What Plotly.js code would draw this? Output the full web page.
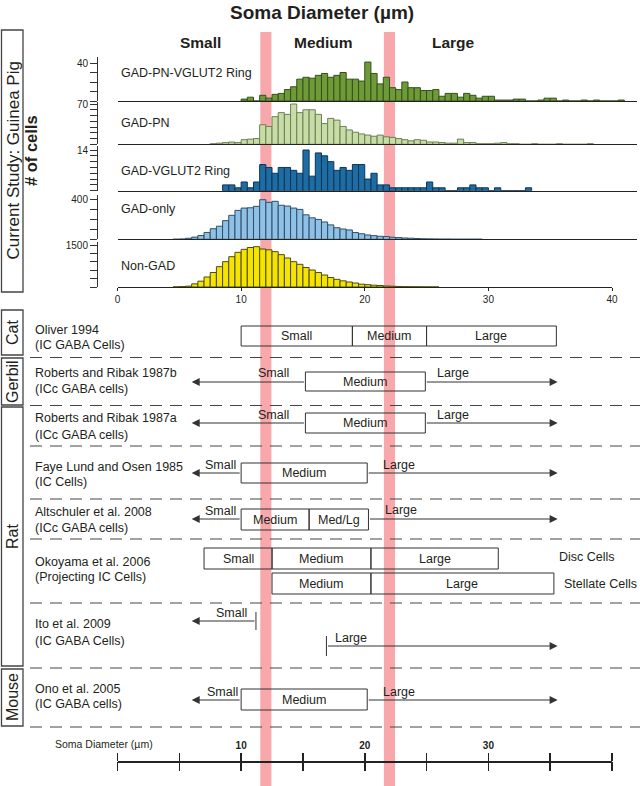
<!DOCTYPE html>
<html><head><meta charset="utf-8">
<script src="https://cdn.plot.ly/plotly-3.0.1.min.js"></script>
<style>html,body{margin:0;padding:0;background:#fff}#chart{width:640px;height:786px}</style>
</head><body><div id="chart"></div>
<script>
// ================= DATA =================
// Histogram counts per 0.5 µm bin (first bin starts at the *Start value)
const binWidth = 0.5;
const ringStart = 10.0;
const gadPnVglut2Ring = [2,4,0,6,3,7,8,12,15,23,25,24,27,29,25,27,30,23,23,21,41,29,18,25,14,12,20,14,14,11,11,12,5,8,8,4,8,6,3,5,5,1,1,1,2,2,0,0,1,3,3,0,1,0,0,1,0,1,0,0,0,1];
const pnStart = 7.5;
const gadPn = [1,2,3,4,3,8,9,10,34,31,48,55,52,70,55,60,60,52,36,45,42,31,25,21,18,16,14,16,13,12,10,8,6,8,7,4,4,3,2,2,9,3,3,1,1,1,2,3,1,1,0,0,1,0,0,0,1,0,0,0,0,1];
const vglutStart = 8.5;
const gadVglut2Ring = [2,2,1,3,1,3,9,8,6,8,8,7,6,14,5,13,12,10,7,8,7,9,9,4,6,2,2,1,1,1,1,1,1,3,1,1,0,0,1,1,2,1,1,0,1,0,0,0,0,1];
const gadOnlyStart = 4.5;
const gadOnly = [1,3,10,22,38,68,105,130,185,238,287,310,313,327,393,367,377,338,330,310,297,243,213,197,172,143,115,102,93,67,55,43,36,30,27,20,17,13,11,8,5,4,3,2,2,1,1,1,1,1];
const nonGadStart = 4.5;
const nonGad = [5,15,30,113,208,357,518,726,905,1083,1238,1345,1411,1440,1357,1327,1262,1155,1036,905,810,696,607,518,428,339,274,220,178,143,101,83,65,53,36,28,20,14,10,7,5,3,2];

const panelNames = ['GAD-PN-VGLUT2 Ring','GAD-PN','GAD-VGLUT2 Ring','GAD-only','Non-GAD'];
const panelTopValues = [40, 70, 14, 400, 1500];
const panelTickSteps = [10, 10, 2, 100, 300];

// Size class boundaries (µm) used by this study
const sizeClasses = ['Small','Medium','Large'];
const sizeBounds = [12, 22];

// Literature comparison
const studyNames = ['Oliver 1994','Roberts and Ribak 1987b','Roberts and Ribak 1987a','Faye Lund and Osen 1985','Altschuler et al. 2008','Okoyama et al. 2006','Ito et al. 2009','Ono et al. 2005'];
const studyCells = ['(IC GABA Cells)','(ICc GABA cells)','(ICc GABA cells)','(IC Cells)','(ICc GABA cells)','(Projecting IC Cells)','(IC GABA Cells)','(IC GABA cells)'];
const species = ['Cat','Gerbil','Rat','Mouse'];

const oliverEdges = [10.0, 19.0, 25.0, 35.5];
const oliverLabels = ['Small','Medium','Large'];
const robertsBEdges = [15.2, 24.9];
const robertsAEdges = [15.2, 24.9];
const fayeLundEdges = [10.0, 20.2];
const altschulerEdges = [10.0, 15.5, 20.3];
const altschulerLabels = ['Medium','Med/Lg'];
const okoyamaDiscEdges = [7.0, 12.5, 20.5, 30.8];
const okoyamaDiscLabels = ['Small','Medium','Large'];
const okoyamaStellateEdges = [12.5, 20.5, 35.3];
const okoyamaStellateLabels = ['Medium','Large'];
const onoEdges = [10.0, 20.2];
const itoSmallMax = 11.2;
const itoLargeMin = 16.9;
const openArrowMin = 6.0;
const openArrowMax = 35.6;
const scaleTicks = [0,5,10,15,20,25,30,35,40];
const scaleLabels = ['', '', '10', '', '20', '', '30', '', ''];

// ================= LAYOUT HELPERS =================
const W = 640, H = 786;
const FONT = 'Liberation Sans, Arial, Helvetica, sans-serif';
const INK = '#231f20';
const PINK = 'rgb(248,168,170)';
const fx = px => px / W;
const fy = py => 1 - py / H;
const X0 = 117.5, PXU = (612 - 117.5) / 40; // px per µm

const panelStyle = [
  {fill:'#6f9a38', line:'#34501a', start: ringStart, data: gadPnVglut2Ring, base:101, topPx:63, domTop:57},
  {fill:'#c8dda6', line:'#6d7f55', start: pnStart, data: gadPn, base:144.3, topPx:104, domTop:101.5},
  {fill:'#1d6ca3', line:'#0d3556', start: vglutStart, data: gadVglut2Ring, base:190.7, topPx:150, domTop:146},
  {fill:'#8fc0e6', line:'#2f4f68', start: gadOnlyStart, data: gadOnly, base:239.3, topPx:199, domTop:195},
  {fill:'#f5e400', line:'#4d4a10', start: nonGadStart, data: nonGad, base:287, topPx:245, domTop:242}
];
const labelY = [73, 123, 171, 209, 266];

const traces = [];
const layout = {
  width: W, height: H, margin: {l:0, r:0, t:0, b:0},
  paper_bgcolor: '#ffffff', plot_bgcolor: 'rgba(0,0,0,0)',
  showlegend: false, bargap: 0,
  font: {family: FONT, color: INK},
  shapes: [], annotations: []
};

panelStyle.forEach((p, i) => {
  const n = i + 1;
  const xa = n === 1 ? 'xaxis' : 'xaxis' + n;
  const ya = n === 1 ? 'yaxis' : 'yaxis' + n;
  const xr = n === 1 ? 'x' : 'x' + n;
  const yr = n === 1 ? 'y' : 'y' + n;
  traces.push({
    type: 'bar', x0: p.start + binWidth / 2, dx: binWidth, y: p.data, width: binWidth,
    xaxis: xr, yaxis: yr,
    marker: {color: p.fill, line: {color: p.line, width: 1}},
    hoverinfo: 'skip'
  });
  const last = n === 5;
  const xMax = last ? 40 : 42;
  layout[xa] = {
    domain: [fx(X0), fx(X0 + xMax * PXU)], range: [0, xMax], anchor: yr,
    showline: true, linecolor: '#222', linewidth: 1, showgrid: false, zeroline: false,
    ticks: last ? 'outside' : '', ticklen: 3, tickcolor: '#222',
    showticklabels: last, tickvals: [0,10,20,30,40], tickfont: {size: 10, family: FONT, color: INK},
    fixedrange: true
  };
  const topVal = panelTopValues[i];
  const rMax = topVal * (p.base - p.domTop) / (p.base - p.topPx);
  const tv = [], tt = [];
  for (let v = 0; v <= topVal + 1e-9; v += panelTickSteps[i]) { tv.push(v); tt.push(''); }
  tt[tt.length - 1] = String(topVal);
  layout[ya] = {
    domain: [fy(p.base), fy(p.domTop)], range: [0, rMax], anchor: 'free', position: fx(97),
    showline: true, linecolor: '#333', linewidth: 1, showgrid: false, zeroline: false,
    ticks: 'outside', ticklen: 7, tickcolor: '#333', tickwidth: 1,
    tickvals: tv, ticktext: tt, tickfont: {size: 10, family: FONT, color: INK},
    fixedrange: true
  };
  layout.annotations.push({
    xref: 'paper', yref: 'paper', x: fx(119), y: fy(labelY[i]), xanchor: 'left', yanchor: 'middle',
    text: panelNames[i], showarrow: false, font: {size: 12.5, family: FONT, color: INK}
  });
});

// bottom scale axis (shared scale for the comparison panel)
layout.xaxis6 = {
  domain: [fx(X0), fx(612)], range: [0, 40], anchor: 'free', position: fy(761), side: 'top',
  showline: true, linecolor: '#222', linewidth: 1.5, showgrid: false, zeroline: false,
  ticks: 'outside', ticklen: 8, tickwidth: 1.5, tickcolor: '#222',
  tickvals: scaleTicks, ticktext: scaleLabels.map(s => s ? '<b>' + s + '</b>' : ''),
  tickfont: {size: 10, family: FONT, color: INK}, fixedrange: true
};
layout.xaxis7 = {
  overlaying: 'x6', range: [0, 40], anchor: 'free', position: fy(761), side: 'bottom',
  showline: false, showgrid: false, zeroline: false,
  ticks: 'outside', ticklen: 9, tickwidth: 1.5, tickcolor: '#222',
  tickvals: scaleTicks, showticklabels: false, fixedrange: true
};
// invisible carrier traces so the scale axes exist
traces.push({type: 'scatter', x: [0, 40], y: [0, 0], xaxis: 'x6', yaxis: 'y6', mode: 'none', hoverinfo: 'skip'});
traces.push({type: 'scatter', x: [0, 40], y: [0, 0], xaxis: 'x7', yaxis: 'y6', mode: 'none', hoverinfo: 'skip'});
layout.yaxis6 = {domain: [0, 0.02], range: [0, 1], anchor: 'x6', visible: false, fixedrange: true};

const S = layout.shapes, A = layout.annotations;

// pink class boundaries
sizeBounds.forEach(b => {
  S.push({type: 'rect', layer: 'below', xref: 'x6', yref: 'paper', x0: b - 0.45, x1: b + 0.45,
    y0: 0, y1: fy(32), fillcolor: PINK, line: {width: 0}});
});

function txt(xref, x, yPx, text, size, opts) {
  A.push(Object.assign({xref: xref, yref: 'paper', x: x, y: fy(yPx), text: text, showarrow: false,
    xanchor: 'center', yanchor: 'middle', font: {size: size, family: FONT, color: INK}}, opts || {}));
}
function box(edges, labels, top, bot) {
  for (let i = 0; i < edges.length - 1; i++) {
    S.push({type: 'rect', layer: 'above', xref: 'x6', yref: 'paper', x0: edges[i], x1: edges[i + 1],
      y0: fy(bot), y1: fy(top), line: {color: '#333', width: 1}, fillcolor: 'rgba(0,0,0,0)'});
    txt('x6', (edges[i] + edges[i + 1]) / 2, (top + bot) / 2, labels[i], 12.5);
  }
}
function arrow(from, to, yPx) {
  A.push({xref: 'x6', yref: 'paper', x: to, y: fy(yPx), axref: 'x6', ax: from, ayref: 'pixel', ay: 0,
    text: '', showarrow: true, arrowhead: 2, arrowsize: 1.6, arrowwidth: 1, arrowcolor: '#333',
    standoff: 0, startstandoff: 0});
}
function vtick(x, y1, y2) {
  S.push({type: 'line', layer: 'above', xref: 'x6', yref: 'paper', x0: x, x1: x, y0: fy(y1), y1: fy(y2),
    line: {color: '#333', width: 1}});
}
function dashed(yPx) {
  S.push({type: 'line', layer: 'above', xref: 'paper', yref: 'paper', x0: fx(30), x1: 1, y0: fy(yPx), y1: fy(yPx),
    line: {color: '#444', width: 1, dash: '12px,8px'}});
}
function catBox(top, bot, label, size) {
  S.push({type: 'rect', layer: 'above', xref: 'paper', yref: 'paper', x0: fx(1.5), x1: fx(23), y0: fy(bot), y1: fy(top),
    line: {color: '#444', width: 1.3}, fillcolor: 'rgba(0,0,0,0)'});
  txt('paper', fx(12.5), (top + bot) / 2, label, size || 16, {textangle: -90});
}
function study(i, y1, y2) {
  txt('paper', fx(33), y1, studyNames[i], 12.5, {xanchor: 'left'});
  txt('paper', fx(33), y2, studyCells[i], 12.5, {xanchor: 'left'});
}

// ---- header ----
txt('paper', fx(322), 12, '<b>Soma Diameter (µm)</b>', 19);
const headerX = [6.75, 16.7, 27.2];
sizeClasses.forEach((c, i) => txt('x6', headerX[i], 43, '<b>' + c + '</b>', 15.5));
txt('paper', fx(31), 151, '<b># of cells</b>', 16.5, {textangle: -90});
catBox(30, 292, 'Current Study: Guinea Pig', 17);

// ---- species boxes ----
catBox(310, 355, species[0]);
catBox(358, 405, species[1]);
catBox(407, 666, species[2]);
catBox(669, 726, species[3]);

[357.5, 405.5, 446, 499, 539, 603, 668, 727].forEach(dashed);

// Oliver 1994
study(0, 330, 345);
box(oliverEdges, oliverLabels, 326, 346);
// Roberts and Ribak 1987b
study(1, 373, 389);
box(robertsBEdges, ['Medium'], 372, 391);
arrow(robertsBEdges[0], openArrowMin, 382); arrow(robertsBEdges[1], openArrowMax, 382);
txt('x6', 12.6, 373, 'Small', 12.5); txt('x6', 27.1, 373, 'Large', 12.5);
// Roberts and Ribak 1987a
study(2, 418, 435);
box(robertsAEdges, ['Medium'], 413, 433);
arrow(robertsAEdges[0], openArrowMin, 423); arrow(robertsAEdges[1], openArrowMax, 423);
txt('x6', 12.6, 415, 'Small', 12.5); txt('x6', 27.1, 415, 'Large', 12.5);
// Faye Lund and Osen 1985
study(3, 467, 482);
box(fayeLundEdges, ['Medium'], 463, 483);
arrow(fayeLundEdges[0], openArrowMin, 473); arrow(fayeLundEdges[1], openArrowMax, 473);
txt('x6', 8.3, 465, 'Small', 12.5); txt('x6', 22.8, 465, 'Large', 12.5);
// Altschuler et al. 2008
study(4, 512, 528);
box(altschulerEdges, altschulerLabels, 509, 530);
arrow(altschulerEdges[0], openArrowMin, 519); arrow(altschulerEdges[2], openArrowMax, 519);
txt('x6', 8.3, 511, 'Small', 12.5); txt('x6', 22.9, 510, 'Large', 12.5);
// Okoyama et al. 2006
study(5, 562, 577);
box(okoyamaDiscEdges, okoyamaDiscLabels, 548, 569);
box(okoyamaStellateEdges, okoyamaStellateLabels, 573, 594);
txt('paper', fx(557), 557, 'Disc Cells', 12.5, {xanchor: 'left'});
txt('paper', fx(562), 584, 'Stellate Cells', 12.5, {xanchor: 'left'});
// Ito et al. 2009
study(6, 624, 641);
vtick(itoSmallMax, 612, 630); arrow(itoSmallMax, openArrowMin, 621);
txt('x6', 9.2, 613, 'Small', 12.5);
vtick(itoLargeMin, 636, 656); arrow(itoLargeMin, openArrowMax, 646);
txt('x6', 18.9, 638, 'Large', 12.5);
// Ono et al. 2005
study(7, 689, 704);
box(onoEdges, ['Medium'], 689, 710);
arrow(onoEdges[0], openArrowMin, 700); arrow(onoEdges[1], openArrowMax, 700);
txt('x6', 8.5, 692, 'Small', 12.5); txt('x6', 22.8, 692, 'Large', 12.5);

// bottom scale caption
txt('paper', fx(104), 744, 'Soma Diameter (µm)', 10.5);

Plotly.newPlot('chart', traces, layout, {staticPlot: true, displayModeBar: false});
</script>
</body></html>
